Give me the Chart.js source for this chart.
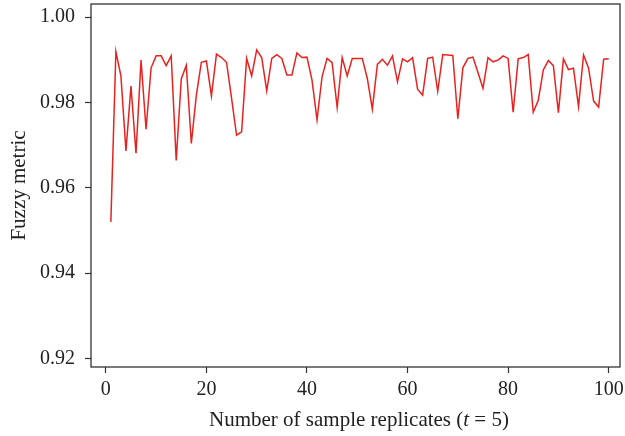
<!DOCTYPE html>
<html>
<head>
<meta charset="utf-8">
<script src="https://cdn.jsdelivr.net/npm/chart.js"></script>
<style>
  * { margin: 0; padding: 0; }
  body { background: #fff; }
</style>
</head>
<body>
<canvas id="chart" width="625" height="436"></canvas>
<script>
// sample replicate number (x) and fuzzy metric (y)
const replicates = [
  1, 2, 3, 4, 5, 6, 7, 8, 9, 10,
  11, 12, 13, 14, 15, 16, 17, 18, 19, 20,
  21, 22, 23, 24, 25, 26, 27, 28, 29, 30,
  31, 32, 33, 34, 35, 36, 37, 38, 39, 40,
  41, 42, 43, 44, 45, 46, 47, 48, 49, 50,
  51, 52, 53, 54, 55, 56, 57, 58, 59, 60,
  61, 62, 63, 64, 65, 66, 67, 68, 69, 70,
  71, 72, 73, 74, 75, 76, 77, 78, 79, 80,
  81, 82, 83, 84, 85, 86, 87, 88, 89, 90,
  91, 92, 93, 94, 95, 96, 97, 98, 99, 100
];
const fuzzyMetric = [
  0.9520, 0.9919, 0.9862, 0.9686, 0.9838, 0.9681, 0.9899, 0.9737, 0.9881, 0.9909,
  0.9909, 0.9886, 0.9909, 0.9664, 0.9855, 0.9887, 0.9704, 0.9817, 0.9894, 0.9897,
  0.9815, 0.9913, 0.9905, 0.9894, 0.9810, 0.9723, 0.9731, 0.9903, 0.9862, 0.9923,
  0.9905, 0.9827, 0.9903, 0.9912, 0.9903, 0.9864, 0.9864, 0.9916, 0.9905, 0.9906,
  0.9852, 0.9759, 0.9860, 0.9903, 0.9893, 0.9788, 0.9905, 0.9862, 0.9903, 0.9903,
  0.9903, 0.9856, 0.9784, 0.9889, 0.9901, 0.9887, 0.9909, 0.9848, 0.9902, 0.9895,
  0.9905, 0.9831, 0.9817, 0.9903, 0.9906, 0.9826, 0.9912, 0.9911, 0.9910, 0.9762,
  0.9881, 0.9903, 0.9906, 0.9870, 0.9833, 0.9905, 0.9895, 0.9899, 0.9909, 0.9903,
  0.9777, 0.9902, 0.9905, 0.9912, 0.9777, 0.9805, 0.9876, 0.9898, 0.9886, 0.9776,
  0.9902, 0.9877, 0.9880, 0.9790, 0.9911, 0.9880, 0.9803, 0.9789, 0.9901, 0.9902
];
const xTicks = [0, 20, 40, 60, 80, 100];
const yTicks = [0.92, 0.94, 0.96, 0.98, 1.00];

const FONT = "'Liberation Serif', 'DejaVu Serif', serif";
const INK = '#222';

// box around the plot + x title with italic t
const frame = {
  id: 'frame',
  afterDraw(chart) {
    const { ctx, chartArea: a } = chart;
    ctx.save();
    ctx.strokeStyle = '#333';
    ctx.lineWidth = 1.3;
    ctx.strokeRect(a.left, a.top, a.right - a.left, a.bottom - a.top);

    const parts = [
      ['Number of sample replicates (', 'normal'],
      ['t', 'italic'],
      [' = 5)', 'normal']
    ];
    let total = 0;
    parts.forEach(p => {
      ctx.font = p[1] + ' 21px ' + FONT;
      p.push(ctx.measureText(p[0]).width);
      total += p[2];
    });
    let x = 359 - total / 2;
    ctx.fillStyle = INK;
    ctx.textBaseline = 'middle';
    ctx.textAlign = 'left';
    parts.forEach(p => {
      ctx.font = p[1] + ' 21px ' + FONT;
      ctx.fillText(p[0], x, 420);
      x += p[2];
    });
    ctx.restore();
  }
};

new Chart(document.getElementById('chart'), {
  type: 'line',
  data: {
    labels: replicates,
    datasets: [{
      data: replicates.map((r, i) => ({ x: r, y: fuzzyMetric[i] })),
      borderColor: '#e8231f',
      borderWidth: 1.5,
      pointRadius: 0,
      tension: 0,
      fill: false
    }]
  },
  options: {
    responsive: false,
    animation: false,
    layout: { padding: { top: 4, right: 5, left: 9, bottom: 0 } },
    plugins: { legend: { display: false }, tooltip: { enabled: false } },
    scales: {
      x: {
        type: 'linear',
        min: -2.95,
        max: 102.25,
        afterBuildTicks: s => { s.ticks = xTicks.map(v => ({ value: v })); },
        afterFit: s => { s.height = 69; s.paddingLeft = 0; s.paddingRight = 0; },
        border: { display: false },
        grid: { drawOnChartArea: false, drawTicks: true, tickLength: 6, tickColor: '#333', tickWidth: 1.2 },
        ticks: { color: INK, font: { family: FONT, size: 20 }, padding: 5, maxRotation: 0 }
      },
      y: {
        min: 0.918,
        max: 1.00305,
        afterBuildTicks: s => { s.ticks = yTicks.map(v => ({ value: v })); },
        afterFit: s => { s.paddingTop = 0; s.paddingBottom = 0; },
        border: { display: false },
        grid: { drawOnChartArea: false, drawTicks: true, tickLength: 6, tickColor: '#333', tickWidth: 1.2 },
        ticks: { color: INK, font: { family: FONT, size: 20 }, padding: 10, callback: v => v.toFixed(2) },
        title: { display: true, text: 'Fuzzy metric', color: INK, font: { family: FONT, size: 21, lineHeight: 1 }, padding: { top: 0, bottom: 0 } }
      }
    }
  },
  plugins: [frame]
});
</script>
</body>
</html>
